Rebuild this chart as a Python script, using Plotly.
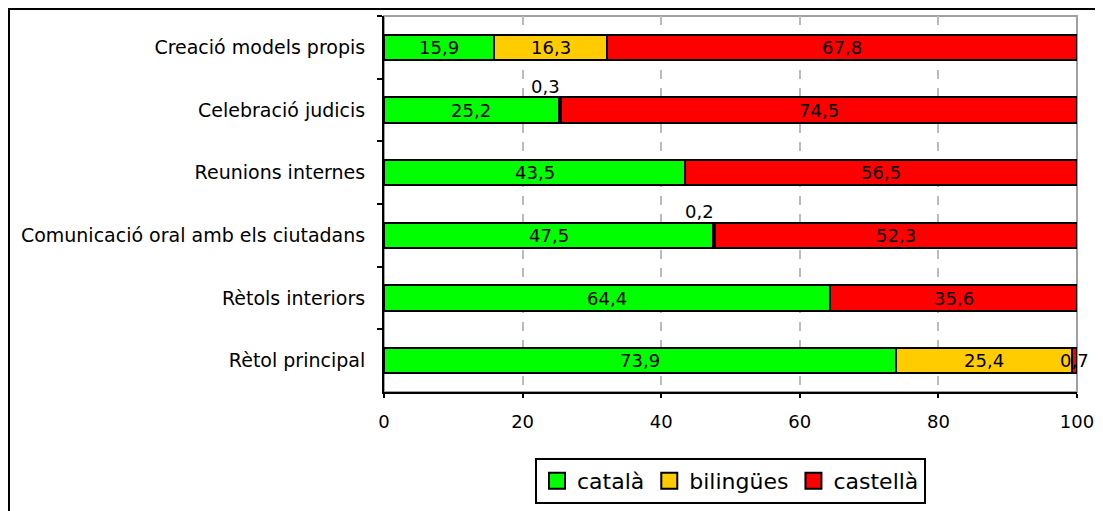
import plotly.graph_objects as go

categories = ["Creació models propis", "Celebració judicis", "Reunions internes",
              "Comunicació oral amb els ciutadans", "Rètols interiors", "Rètol principal"]
catala = [15.9, 25.2, 43.5, 47.5, 64.4, 73.9]
bilingues = [16.3, 0.3, 0.0, 0.2, 0.0, 25.4]
castella = [67.8, 74.5, 56.5, 52.3, 35.6, 0.7]
series_names = ["català", "bilingües", "castellà"]
colors = ["#00FF00", "#FFCC00", "#FF0000"]
x_ticks = [0, 20, 40, 60, 80, 100]

FONT = "DejaVu Sans"
W, H = 1095, 503
L, R, T, B = 376, 1095 - 1069, 8, 503 - 385
PW, PH = W - L - R, H - T - B

fig = go.Figure()
series = [catala, bilingues, castella]
for name, vals, col in zip(series_names, series, colors):
    fig.add_trace(go.Bar(
        y=categories, x=vals, name=name, orientation="h",
        marker=dict(color=col, line=dict(color="black", width=2)),
        width=0.4, textposition="none", hoverinfo="x+y", showlegend=False))
# legend entries with larger square keys
for name, col in zip(series_names, colors):
    fig.add_trace(go.Scatter(
        x=[None], y=[None], mode="markers", name=name,
        marker=dict(symbol="square", size=18, color=col, line=dict(color="black", width=2)),
        showlegend=True, hoverinfo="skip"))

# data labels
for i, cat in enumerate(categories):
    start = 0.0
    for vals in series:
        v = vals[i]
        if v > 0:
            txt = f"{v:.1f}".replace(".", ",")
            if v < 0.5 and start < 99:
                fig.add_annotation(x=start + v / 2, y=cat, text=txt, showarrow=False,
                                   xshift=-14, yshift=24,
                                   font=dict(family=FONT, size=18, color="black"))
            else:
                fig.add_annotation(x=start + v / 2, y=cat, text=txt, showarrow=False,
                                   font=dict(family=FONT, size=18, color="black"))
        start += v

# plot-area grey frame
fig.add_shape(type="rect", xref="paper", yref="paper", x0=0, y0=0, x1=1, y1=1,
              line=dict(color="#A0A0A0", width=2), layer="below")
# outer chart frame (top and left visible)
px0 = (1 - L) / PW
py0 = 1 + (T - 1) / PH
fig.add_shape(type="path", xref="paper", yref="paper",
              path=f"M {px0} -0.5 L {px0} {py0} L 1.2 {py0}",
              line=dict(color="black", width=2))

fig.update_layout(
    barmode="stack",
    width=W, height=H,
    margin=dict(l=L, r=R, t=T, b=B, pad=0),
    paper_bgcolor="white", plot_bgcolor="white",
    font=dict(family=FONT, size=18, color="black"),
    separators=",.",
    bargap=0.6,
    legend=dict(orientation="h", x=0.5, xanchor="center", y=-0.172, yanchor="top",
                bordercolor="black", borderwidth=2, font=dict(size=22, family=FONT),
                itemwidth=30, traceorder="normal", bgcolor="white"),
    showlegend=True,
)
fig.update_xaxes(range=[0, 100], tickvals=x_ticks, showgrid=True,
                 gridcolor="#BBBBBB", gridwidth=2, griddash="dash",
                 showline=True, linecolor="black", linewidth=2,
                 ticks="outside", ticklen=4, tickwidth=2, tickcolor="black",
                 ticklabelstandoff=8, zeroline=False,
                 tickfont=dict(size=18, family=FONT))
fig.update_yaxes(categoryorder="array", categoryarray=categories, autorange="reversed",
                 showline=True, linecolor="black", linewidth=2,
                 ticks="outside", tickson="boundaries", ticklen=5, tickcolor="black",
                 tickwidth=2, showgrid=False, ticklabelstandoff=13,
                 tickfont=dict(size=19, family=FONT))

fig.write_html("out.html", post_script="document.body.style.overflow='hidden';")
